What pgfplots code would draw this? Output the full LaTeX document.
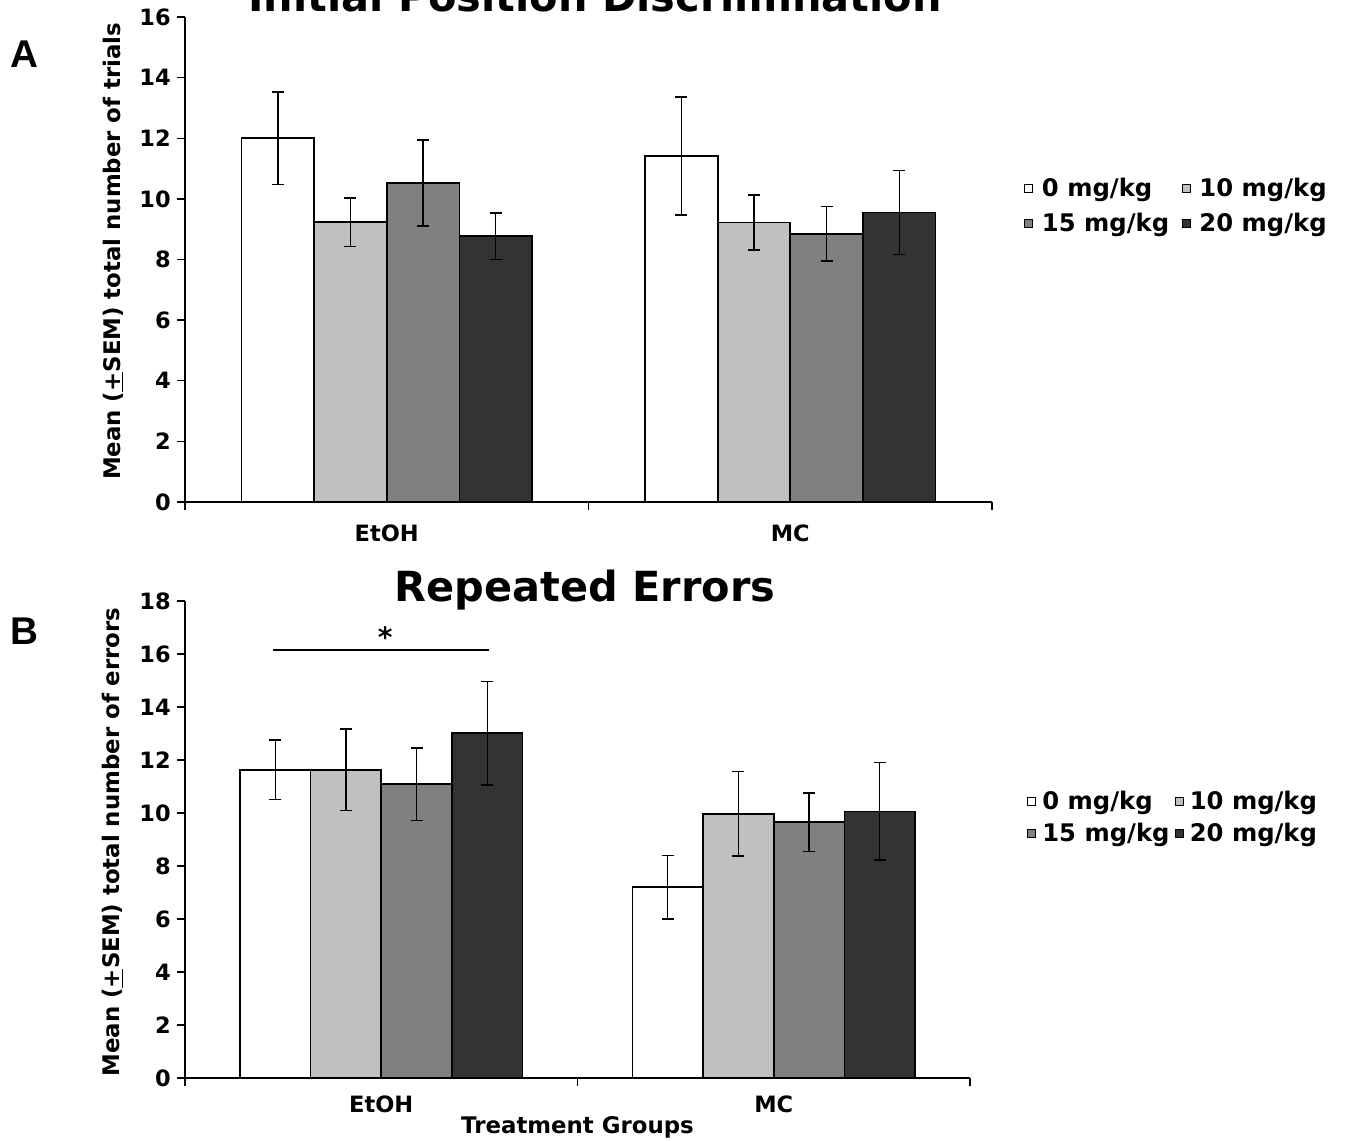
\documentclass[border=0pt]{standalone}
\usepackage{fontspec}
\setmainfont{DejaVu Sans}
\newfontfamily\panelfont{Liberation Sans}
\usepackage{pgfplots}
\pgfplotsset{compat=1.18}

\definecolor{g1}{HTML}{FFFFFF}
\definecolor{g2}{HTML}{C0C0C0}
\definecolor{g3}{HTML}{808080}
\definecolor{g4}{HTML}{333333}

\pgfplotsset{
  panel/.style={
    scale only axis,
    axis x line=bottom, axis y line=left,
    axis line style={-, line width=0.85pt, black},
    xmin=-0.5, xmax=1.5, ymin=0,
    xtick={-0.5,0.5,1.5}, xticklabels={},
    extra x ticks={0,1}, extra x tick labels={EtOH,MC},
    major tick length=0.16cm,
    tick style={line width=0.8pt, black},
    xtick align=outside, ytick align=outside,
    ticklabel style={font=\bfseries\fontsize{12.8}{14}\selectfont},
    /pgf/number format/assume math mode=true,
    label style={font=\bfseries\fontsize{13}{15}\selectfont},
    ybar=0pt, bar width=0.18,
    legend columns=2,
    legend cell align=left,
    legend style={draw=none, fill=none, font=\bfseries\fontsize{13.8}{15}\selectfont,
      nodes={inner sep=1.5pt}},
    legend image code/.code={\draw[#1, line width=0.6pt] (0cm,-0.08cm) rectangle (0.16cm,0.08cm);},
    error bars/y dir=both, error bars/y explicit,
    error bars/error bar style={line width=0.8pt, black, solid},
    error bars/error mark options={line width=0.9pt, black, rotate=90, mark size=0.12cm},
  },
  bars/.style={draw=black, line width=1pt, fill=#1},
}

\begin{document}
\begin{tikzpicture}
\useasboundingbox (0,0) rectangle (26.94cm,22.8cm);

% ---------- Panel A ----------
\begin{axis}[panel,
  at={(3.7cm,12.76cm)}, anchor=south west,
  width=16.14cm, height=9.7cm,
  ymax=16, ytick={0,2,...,16},
  extra x tick style={major tick length=0pt, xticklabel style={yshift=-0.33cm}},
  ylabel={Mean (\underline{+}SEM) total number of trials},
  ylabel style={at={(axis description cs:-0.089,0.517)}, anchor=center},
  legend style={at={(1.033,0.682)}, anchor=north west, row sep=0.18cm,
    /tikz/every odd column/.append style={column sep=0.12cm},
    /tikz/every even column/.append style={column sep=0.2cm}},
]
\addplot[bars=g1] coordinates {(0,12.00) +- (0,1.52) (1,11.41) +- (0,1.95)};
\addplot[bars=g2] coordinates {(0,9.23) +- (0,0.80) (1,9.22) +- (0,0.90)};
\addplot[bars=g3] coordinates {(0,10.52) +- (0,1.42) (1,8.85) +- (0,0.90)};
\addplot[bars=g4] coordinates {(0,8.77) +- (0,0.77) (1,9.55) +- (0,1.39)};
\legend{0 mg/kg,10 mg/kg,15 mg/kg,20 mg/kg}
\end{axis}

% ---------- Panel B ----------
\begin{axis}[panel,
  at={(3.7cm,1.24cm)}, anchor=south west,
  width=15.7cm, height=9.54cm,
  ymax=18, ytick={0,2,...,18},
  extra x tick style={major tick length=0pt, xticklabel style={yshift=-0.23cm}},
  ylabel={Mean (\underline{+}SEM) total number of errors},
  ylabel style={at={(axis description cs:-0.092,0.495)}, anchor=center},
  xlabel={Treatment Groups},
  xlabel style={at={(axis description cs:0.5,0)}, anchor=center, yshift=-0.98cm},
  legend style={at={(1.0656,0.616)}, anchor=north west, row sep=0.12cm,
    /tikz/every odd column/.append style={column sep=0.07cm},
    /tikz/every even column/.append style={column sep=0.05cm}},
  clip=false,
]
\addplot[bars=g1] coordinates {(0,11.63) +- (0,1.12) (1,7.20) +- (0,1.20)};
\addplot[bars=g2] coordinates {(0,11.63) +- (0,1.53) (1,9.97) +- (0,1.60)};
\addplot[bars=g3] coordinates {(0,11.09) +- (0,1.37) (1,9.65) +- (0,1.10)};
\addplot[bars=g4] coordinates {(0,13.01) +- (0,1.95) (1,10.06) +- (0,1.84)};
\legend{0 mg/kg,10 mg/kg,15 mg/kg,20 mg/kg}
\draw[line width=0.8pt] (axis cs:-0.275,16.15) -- (axis cs:0.275,16.15);
\node[font=\bfseries\fontsize{16}{18}\selectfont, anchor=center] at (axis cs:0.01,16.65) {*};
\end{axis}

% titles and panel letters
\node[anchor=base, font=\bfseries\fontsize{23.6}{26}\selectfont] at (11.9cm,22.56cm) {Initial Position Discrimination};
\node[anchor=base, font=\bfseries\fontsize{23.6}{26}\selectfont] at (11.7cm,10.76cm) {Repeated Errors};
\node[anchor=base west, inner sep=0pt, font=\panelfont\bfseries\fontsize{22}{24}\selectfont] at (0.2cm,21.44cm) {A};
\node[anchor=base west, inner sep=0pt, font=\panelfont\bfseries\fontsize{22}{24}\selectfont] at (0.2cm,9.9cm) {B};
\end{tikzpicture}
\end{document}
